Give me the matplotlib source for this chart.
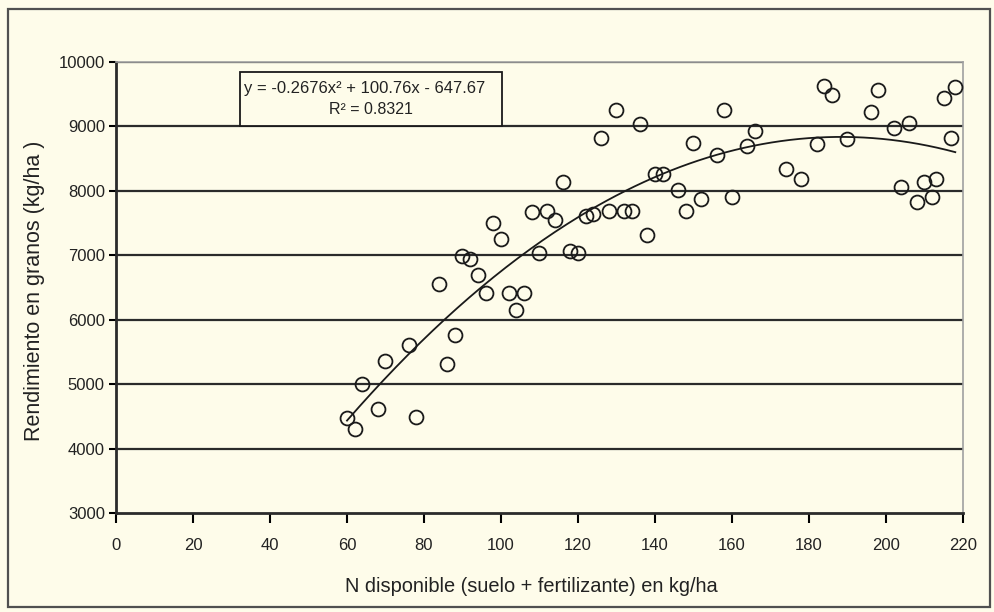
import matplotlib
matplotlib.use("Agg")
import matplotlib.pyplot as plt
import numpy as np
from matplotlib.patches import Rectangle

# ---- data ----
n_disponible = [60, 62, 64, 68, 70, 76, 78, 84, 86, 88, 90, 92, 94, 96, 98, 100,
                102, 104, 106, 108, 110, 112, 114, 116, 118, 120, 122, 124, 126, 128,
                130, 132, 134, 136, 138, 140, 142, 146, 148, 150, 152, 156, 158, 160,
                164, 166, 174, 178, 182, 184, 186, 190, 196, 198, 202, 204, 206, 208,
                210, 212, 213, 215, 217, 218]
rendimiento = [4470, 4310, 5000, 4620, 5360, 5600, 4490, 6555, 5310, 5770, 6990, 6940,
               6700, 6420, 7505, 7260, 6420, 6150, 6420, 7670, 7040, 7680, 7540, 8130,
               7070, 7040, 7615, 7640, 8820, 7690, 9250, 7690, 7690, 9030, 7320, 8265,
               8255, 8010, 7690, 8750, 7880, 8550, 9260, 7900, 8690, 8930, 8340, 8190,
               8720, 9620, 9490, 8800, 9230, 9570, 8980, 8060, 9050, 7830, 8130, 7900,
               8190, 9440, 8820, 9610]
trend_coef = [-0.2676, 100.76, -647.67]   # y = a x^2 + b x + c (from the chart)
trend_range = [60, 218]
r_squared = "0.8321"
x_ticks = list(range(0, 221, 20))
y_ticks = list(range(3000, 10001, 1000))

plt.rcParams["font.family"] = ["Liberation Sans", "DejaVu Sans"]

bg = "#FEFCEA"
fig = plt.figure(figsize=(9.95, 6.12), dpi=100, facecolor=bg)
# outer frame
fig.patches.append(Rectangle((8 / 995, 5 / 612), 982 / 995, 598 / 612, transform=fig.transFigure,
                             fill=False, edgecolor="#505050", linewidth=1.6))

ax = fig.add_axes([116 / 995, 1 - 513 / 612, 847 / 995, 451 / 612])
ax.set_facecolor(bg)

ax.set_xlim(0, 220)
ax.set_ylim(3000, 10000)
ax.set_xticks(x_ticks)
ax.set_yticks(y_ticks)
ax.tick_params(axis="x", direction="out", length=7, width=1.5, pad=11, labelsize=12,
               labelcolor="#222222")
ax.tick_params(axis="y", direction="out", length=5, width=1.5, pad=3, labelsize=12,
               labelcolor="#222222")

for yv in y_ticks[1:]:
    ax.axhline(yv, color="#2b2b2b", linewidth=1.6, zorder=1)

for s in ["left", "bottom"]:
    ax.spines[s].set_color("#2b2b2b")
    ax.spines[s].set_linewidth(2.0)
for s in ["top", "right"]:
    ax.spines[s].set_color("#a0a0a0")
    ax.spines[s].set_linewidth(1.2)

ax.plot(n_disponible, rendimiento, linestyle="none", marker="o", markersize=10,
        markerfacecolor="none", markeredgecolor="#1a1a1a", markeredgewidth=1.3, zorder=3)

xt = np.linspace(trend_range[0], trend_range[1], 200)
yt = np.polyval(trend_coef, xt)
ax.plot(xt, yt, color="#1a1a1a", linewidth=1.3, zorder=4)

ax.set_xlabel("N disponible (suelo + fertilizante) en kg/ha", fontsize=14.4, color="#222222")
ax.set_ylabel("Rendimiento en granos (kg/ha )", fontsize=15.5, color="#222222")
ax.xaxis.set_label_coords((531 - 116) / 847, (513 - 587) / 451)
ax.xaxis.label.set_va("center")
ax.yaxis.set_label_coords((35 - 116) / 847, (513 - 291) / 451)
ax.yaxis.label.set_va("center")

# equation box
fig.patches.append(Rectangle((240 / 995, 1 - 126 / 612), 262 / 995, 54 / 612, transform=fig.transFigure,
                             facecolor=bg, edgecolor="#1a1a1a", linewidth=1.3, zorder=5))
eq = "y = {:.4f}x² + {:.2f}x - {:.2f}".format(trend_coef[0], trend_coef[1], -trend_coef[2])
fig.text(365 / 995, 1 - 88 / 612, eq, ha="center", va="center", fontsize=12, zorder=6,
         color="#222222")
fig.text(371 / 995, 1 - 109 / 612, "R² = " + r_squared, ha="center", va="center", fontsize=11.5,
         zorder=6, color="#222222")

fig.savefig("out.png", dpi=100, facecolor=bg)
